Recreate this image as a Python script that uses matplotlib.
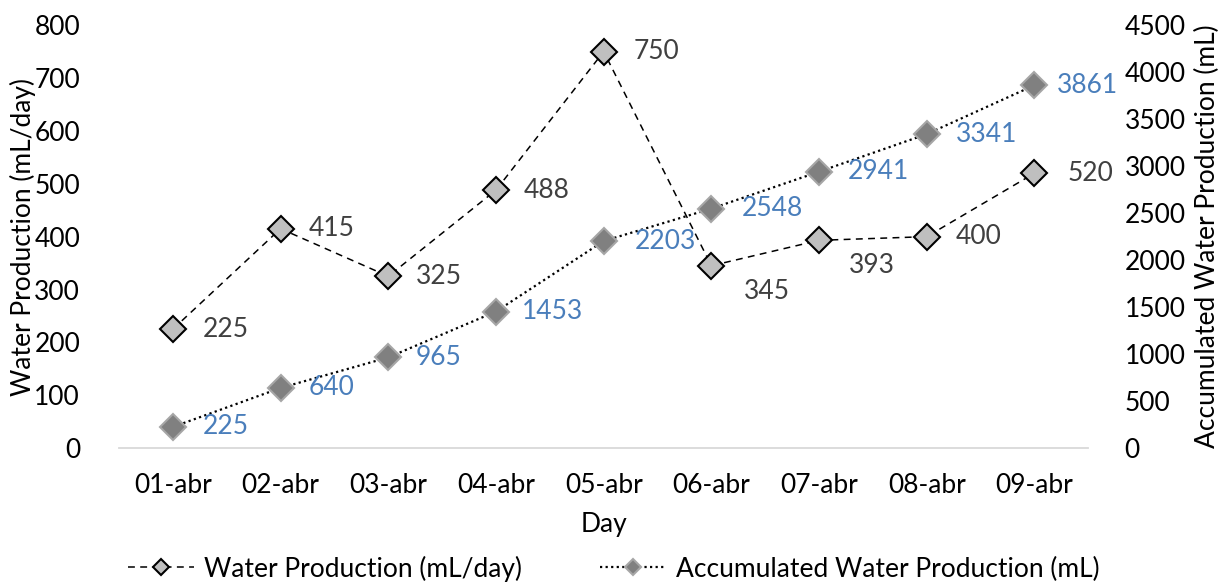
import matplotlib
matplotlib.use('Agg')
import matplotlib.pyplot as plt

# Daily and running-total water production, 1-9 April
DAYS = ['01-abr', '02-abr', '03-abr', '04-abr', '05-abr', '06-abr', '07-abr', '08-abr', '09-abr']
DAILY = [225, 415, 325, 488, 750, 345, 393, 400, 520]
ACCUMULATED = [225, 640, 965, 1453, 2203, 2548, 2941, 3341, 3861]

# label offsets in pixels (06 and 07 daily labels sit below their markers)
DAILY_OFFSETS = [(30, 0), (28, 0), (28, 0), (28, 0), (30, 0), (32, -26), (30, -25), (29, 0), (33, 0)]
ACC_OFFSETS = [(30, 0), (28, 0), (27, 0), (26, 0), (31, 0), (30, 0), (29, 0), (29, 0), (22, 0)]

plt.rcParams['font.family'] = ['Lato', 'DejaVu Sans']
FS = 19

fig = plt.figure(figsize=(12.27, 5.85), dpi=100)
ax = fig.add_axes([0.097, 0.234, 0.79, 0.723])
ax2 = ax.twinx()

x = list(range(len(DAYS)))

l1, = ax.plot(x, DAILY, color='black', lw=1.1, ls=(0, (4.5, 3.5)),
              marker='D', markersize=13.5, markerfacecolor='#bfbfbf',
              markeredgecolor='black', markeredgewidth=1.5,
              label='Water Production (mL/day)', zorder=3)
l2, = ax2.plot(x, ACCUMULATED, color='black', lw=1.6, ls=(0, (1, 1.5)),
               marker='D', markersize=13.5, markerfacecolor='#808080',
               markeredgecolor='#a6a6a6', markeredgewidth=1.5,
               label='Accumulated Water Production (mL)', zorder=3)

for xi, v, off in zip(x, DAILY, DAILY_OFFSETS):
    ax.annotate(str(v), (xi, v), xytext=off, textcoords='offset pixels',
                ha='left', va='center', fontsize=FS, color='#404040')
for xi, v, off in zip(x, ACCUMULATED, ACC_OFFSETS):
    ax2.annotate(str(v), (xi, v), xytext=off, textcoords='offset pixels',
                 ha='left', va='center', fontsize=FS, color='#4a7ebb')

ax.set_xlim(-0.5, len(DAYS) - 0.5)
ax.set_ylim(0, 800)
ax2.set_ylim(0, 4500)
ax.set_yticks(range(0, 801, 100))
ax2.set_yticks(range(0, 4501, 500))
ax.set_xticks(x)
ax.set_xticklabels(DAYS)

for a in (ax, ax2):
    for s in a.spines.values():
        s.set_visible(False)
    a.tick_params(length=0, labelsize=FS)
ax.spines['bottom'].set_visible(True)
ax.spines['bottom'].set_color('#d9d9d9')
ax.spines['bottom'].set_linewidth(1.3)
ax.tick_params(axis='x', pad=18)
ax.tick_params(axis='y', pad=28)
ax2.tick_params(axis='y', pad=26)

ax.set_xlabel('Day', fontsize=FS, labelpad=10)
ax.set_ylabel('Water Production (mL/day)', fontsize=FS, va='center')
ax2.set_ylabel('Accumulated Water Production (mL)', fontsize=FS, va='center')
ax.yaxis.set_label_coords(-0.099, 0.5)
ax2.yaxis.set_label_coords(1.123, 0.5)

fig.legend(handles=[l1, l2], loc='center', bbox_to_anchor=(0.5, 0.028),
           ncol=2, frameon=False, fontsize=FS, markerscale=0.62,
           handlelength=2.5, handletextpad=0.38, columnspacing=2.95)

plt.savefig('out.png', dpi=100)
